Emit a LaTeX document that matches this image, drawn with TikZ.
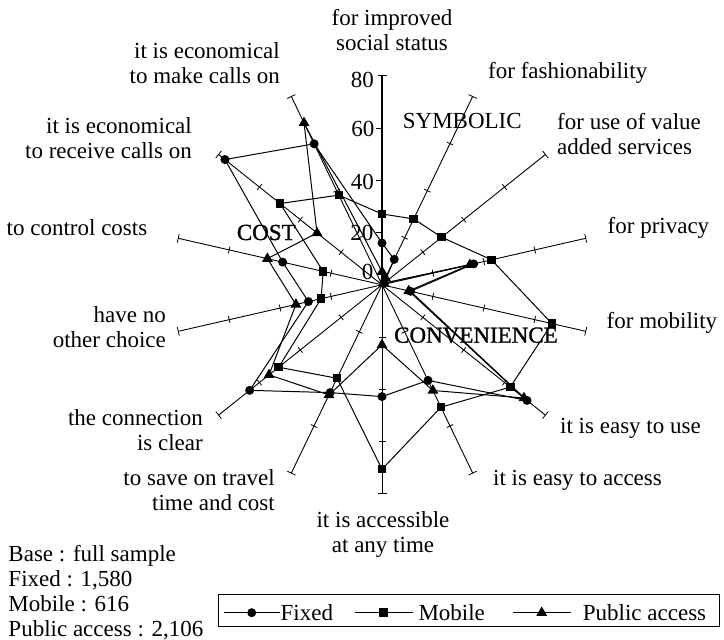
\documentclass[tikz,border=0pt]{standalone}
\usepackage{fontspec}
\setmainfont{Liberation Serif}
\newfontfamily\heavyfont[FakeBold=1.2]{Liberation Serif}
\usetikzlibrary{shapes.geometric}

\begin{document}
\begin{tikzpicture}[x=1pt,y=-1pt,
  every node/.style={inner sep=0pt, font=\fontsize{23}{25}\selectfont},
  axisline/.style={line width=0.9pt},
  vaxis/.style={line width=1.3pt},
  tickmark/.style={line width=0.8pt},
  series/.style={line width=1pt, line join=round},
  mkcirc/.style={circle, fill=black, minimum size=9pt},
  mksq/.style={rectangle, fill=black, minimum size=8.5pt},
  mktri/.style={regular polygon, regular polygon sides=3, fill=black, minimum size=12.5pt},
  lbl/.style={anchor=base},
  lblw/.style={anchor=base west},
  lble/.style={anchor=base east},
  heavy/.style={font=\fontsize{23}{25}\heavyfont},
]
\useasboundingbox (0,0) rectangle (724,640);

% centre of the radar chart and scale (points per percent)
\coordinate (O) at (382,284.8);
\def\pxu{2.6125}

% fourteen spokes, clockwise from the top
\foreach \k in {0,...,13}{
  \pgfmathsetmacro\ang{\k*360/14-90}
  \coordinate (A\k) at ([shift={(O)}]\ang:209);
}
\foreach \k in {1,...,13}{
  \pgfmathsetmacro\ang{\k*360/14-90}
  \draw[axisline] (O) -- (A\k);
  \foreach \r in {20,40,60}
    \draw[tickmark] ([shift={(O)}]\ang:{\r*\pxu}) ++({\ang+90}:3.5) -- ++({\ang-90}:7);
  \draw[tickmark] (A\k) ++({\ang+90}:4.5) -- ++({\ang-90}:9);
}
% value axis (top spoke) with its scale
\draw[vaxis] (O) -- (A0);
\foreach \r in {20,40,60}
  \draw[tickmark] ([shift={(O)}]-90:{\r*\pxu}) -- ++(-6,0);
\draw[tickmark] (A0) ++(-4.5,0) -- ++(9,0);
\node[anchor=east] (v80) at (374,79.5) {80};
\node[anchor=east] (v60) at (374.5,128.8) {60};
\node[anchor=east] (v40) at (374,182) {40};
\node[anchor=east] (v20) at (373.5,233.3) {20};
\node[anchor=east] (v0)  at (373.5,271.7) {0};

% data points
\foreach \v [count=\i from 0] in {16,10.8,1,36,11.2,71,40.6,42.8,45.8,64.8,28.9,39,76.9,59.9}
  \coordinate (F\i) at ([shift={(O)}]{\i*360/14-90}:{\v*\pxu});
\foreach \v [count=\i from 0] in {27.1,28,29.2,43,66.7,62.8,52,70.6,39.7,50.6,23.9,23.1,49.9,38.1}
  \coordinate (M\i) at ([shift={(O)}]{\i*360/14-90}:{\v*\pxu});
\foreach \v [count=\i from 0] in {5,3,1,34.5,10.5,69.5,44.9,23,46.8,55.3,33.8,45,31.8,68.8}
  \coordinate (P\i) at ([shift={(O)}]{\i*360/14-90}:{\v*\pxu});

\draw[series] (F0)--(F1)--(F2)--(F3)--(F4)--(F5)--(F6)--(F7)--(F8)--(F9)--(F10)--(F11)--(F12)--(F13)--cycle;
\draw[series] (M0)--(M1)--(M2)--(M3)--(M4)--(M5)--(M6)--(M7)--(M8)--(M9)--(M10)--(M11)--(M12)--(M13)--cycle;
\draw[series] (P0)--(P1)--(P2)--(P3)--(P4)--(P5)--(P6)--(P7)--(P8)--(P9)--(P10)--(P11)--(P12)--(P13)--cycle;

\foreach \i in {0,...,13}{
  \node[mktri]  (pm\i) at (P\i) {};
  \node[mksq]   (mm\i) at (M\i) {};
  \node[mkcirc] (fm\i) at (F\i) {};
}

% spoke labels
\node[lbl]  (c0a) at (392,25) {for improved};
\node[lbl]  (c0b) at (392,50) {social status};
\node[lblw] (c1)  at (488,78) {for fashionability};
\node[lblw] (c2a) at (557,129) {for use of value};
\node[lblw] (c2b) at (557,154) {added services};
\node[lblw] (c3)  at (607.5,233) {for privacy};
\node[lblw] (c4)  at (606.5,328) {for mobility};
\node[lblw] (c5)  at (560,433) {it is easy to use};
\node[lblw] (c6)  at (493,485) {it is easy to access};
\node[lbl]  (c7a) at (383,527) {it is accessible};
\node[lbl]  (c7b) at (383,552) {at any time};
\node[lble] (c8a) at (275,485) {to save on travel};
\node[lble] (c8b) at (275,510) {time and cost};
\node[lble] (c9a) at (203,425) {the connection};
\node[lble] (c9b) at (203,450) {is clear};
\node[lble] (c10a) at (166,322) {have no};
\node[lble] (c10b) at (166,347) {other choice};
\node[lblw] (c11) at (6.5,235) {to control costs};
\node[lble] (c12a) at (192,133.3) {it is economical};
\node[lble] (c12b) at (192,158.3) {to receive calls on};
\node[lble] (c13a) at (280,58.3) {it is economical};
\node[lble] (c13b) at (280,83.3) {to make calls on};

% group captions
\node[lblw] (gsym)  at (402.7,128.3) {SYMBOLIC};
\node[lblw,heavy] (gcost) at (236.7,240) {COST};
\node[lblw,heavy] (gconv) at (394,342.7) {CONVENIENCE};

% sample sizes
\node[lblw] (n1) at (8.3,561.5) {Base : full sample};
\node[lblw] (n2) at (8.3,586.5) {Fixed : 1,580};
\node[lblw] (n3) at (8.3,611.5) {Mobile : 616};
\node[lblw] (n4) at (8.3,636.5) {Public access : 2,106};

% legend
\node[draw, line width=0.9pt, minimum width=501pt, minimum height=32pt, anchor=north west] (leg) at (218,594) {};
\coordinate (l1a) at (224,612.7);   \coordinate (l1b) at (280,612.7);
\coordinate (l2a) at (355,612.7);   \coordinate (l2b) at (413.3,612.7);
\coordinate (l3a) at (512.7,612.7); \coordinate (l3b) at (570.7,612.7);
\draw[series] (l1a) -- (l1b);
\draw[series] (l2a) -- (l2b);
\draw[series] (l3a) -- (l3b);
\node[mkcirc] (lk1) at (251.7,612.7) {};
\node[mksq]   (lk2) at (383.3,612.7) {};
\node[mktri]  (lk3) at (541.7,612.7) {};
\node[lblw] (lt1) at (280.5,620) {Fixed};
\node[lblw] (lt2) at (418.3,620) {Mobile};
\node[lblw] (lt3) at (582.7,620) {Public access};
\end{tikzpicture}
\end{document}
